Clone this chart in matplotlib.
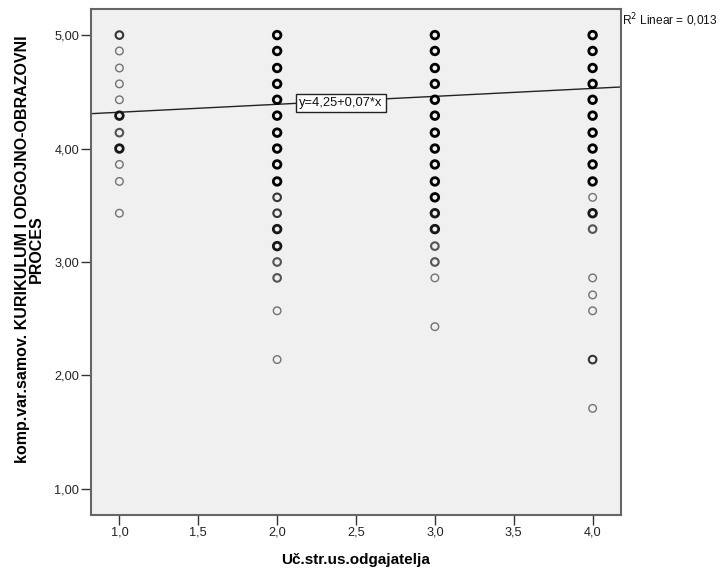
import numpy as np
import matplotlib
matplotlib.use('Agg')
import matplotlib.pyplot as plt

plt.rcParams['font.family'] = ['Liberation Sans', 'DejaVu Sans']

# odczytane wartosci (y) za kazda kategorie x, plus przyblizona liczba nakladajacych sie punktow
y_x1 = [5.00, 4.86, 4.71, 4.57, 4.43, 4.29, 4.14, 4.00, 3.86, 3.71, 3.43]
n_x1 = [3, 1, 1, 1, 1, 4, 2, 4, 1, 1, 1]

y_x2 = [5.00, 4.86, 4.71, 4.57, 4.43, 4.29, 4.14, 4.00, 3.86, 3.71, 3.57,
        3.43, 3.29, 3.14, 3.00, 2.86, 2.57, 2.14]
n_x2 = [5, 5, 5, 5, 5, 5, 5, 5, 5, 5, 3, 3, 4, 4, 2, 2, 1, 1]

y_x3 = [5.00, 4.86, 4.71, 4.57, 4.43, 4.29, 4.14, 4.00, 3.86, 3.71, 3.57,
        3.43, 3.29, 3.14, 3.00, 2.86, 2.43]
n_x3 = [5, 5, 5, 5, 5, 5, 5, 5, 5, 5, 5, 4, 4, 2, 2, 1, 1]

y_x4 = [5.00, 4.86, 4.71, 4.57, 4.43, 4.29, 4.14, 4.00, 3.86, 3.71, 3.57,
        3.43, 3.29, 2.86, 2.71, 2.57, 2.14, 1.71]
n_x4 = [5, 5, 5, 5, 5, 5, 5, 5, 5, 5, 1, 4, 2, 1, 1, 1, 3, 1]

x_cats = [1.0, 2.0, 3.0, 4.0]
columns = [(y_x1, n_x1), (y_x2, n_x2), (y_x3, n_x3), (y_x4, n_x4)]

# linia regresji
intercept = 4.25
slope = 0.07
r2 = 0.013

x_ticks = [1.0, 1.5, 2.0, 2.5, 3.0, 3.5, 4.0]
y_ticks = [1.0, 2.0, 3.0, 4.0, 5.0]


def fmt(v, d):
    return ('{:.%df}' % d).format(v).replace('.', ',')


fig = plt.figure(figsize=(7.22, 5.70), dpi=100)
ax = fig.add_axes([91 / 722, 1 - 515 / 570, 530 / 722, 506 / 570])
ax.set_facecolor('#f0f0f0')

for xc, (ys, ns) in zip(x_cats, columns):
    ns = np.array(ns)
    # im wiecej punktow tym ciemniejszy i grubszy okrag
    shade = np.clip(0.45 - 0.12 * (ns - 1), 0.0, 0.45)
    colors = [(s, s, s) for s in shade]
    lw = np.where(ns >= 4, 2.0, np.where(ns >= 2, 1.5, 1.0))
    ax.scatter(np.full(len(ys), xc), ys, s=30, facecolors='none',
               edgecolors=colors, linewidths=lw, zorder=3)

xl = (0.82, 4.18)
ax.set_xlim(*xl)
ax.set_ylim(0.77, 5.23)
xx = np.array(xl)
ax.plot(xx, intercept + slope * xx, color='#222222', lw=1.0, zorder=2)

ax.text(2.405, 4.40, 'y=' + fmt(intercept, 2) + '+' + fmt(slope, 2) + '*x',
        ha='center', va='center', fontsize=9.3, color='#111111', zorder=4,
        bbox=dict(boxstyle='square,pad=0.25', fc='white', ec='#222222', lw=1))

fig.text(622 / 722, 1 - 20 / 570, 'R$^2$ Linear = ' + fmt(r2, 3),
         ha='left', va='center', fontsize=8.6, color='#111111')

ax.set_xticks(x_ticks)
ax.set_xticklabels([fmt(v, 1) for v in x_ticks])
ax.set_yticks(y_ticks)
ax.set_yticklabels([fmt(v, 2) for v in y_ticks])
ax.tick_params(direction='out', length=7, width=1, colors='#333333',
               labelsize=9.2, labelcolor='#222222', pad=1.5)

for sp in ax.spines.values():
    sp.set_color('#666666')
    sp.set_linewidth(1.5)

ax.set_xlabel('Uč.str.us.odgajatelja', fontsize=11, fontweight='bold',
              labelpad=10)
ax.set_ylabel('komp.var.samov. KURIKULUM I ODGOJNO-OBRAZOVNI\nPROCES',
              fontsize=11.5, fontweight='bold', linespacing=0.9)
ax.yaxis.set_label_coords(-0.089, 0.525)

fig.savefig('out.png', dpi=100)
